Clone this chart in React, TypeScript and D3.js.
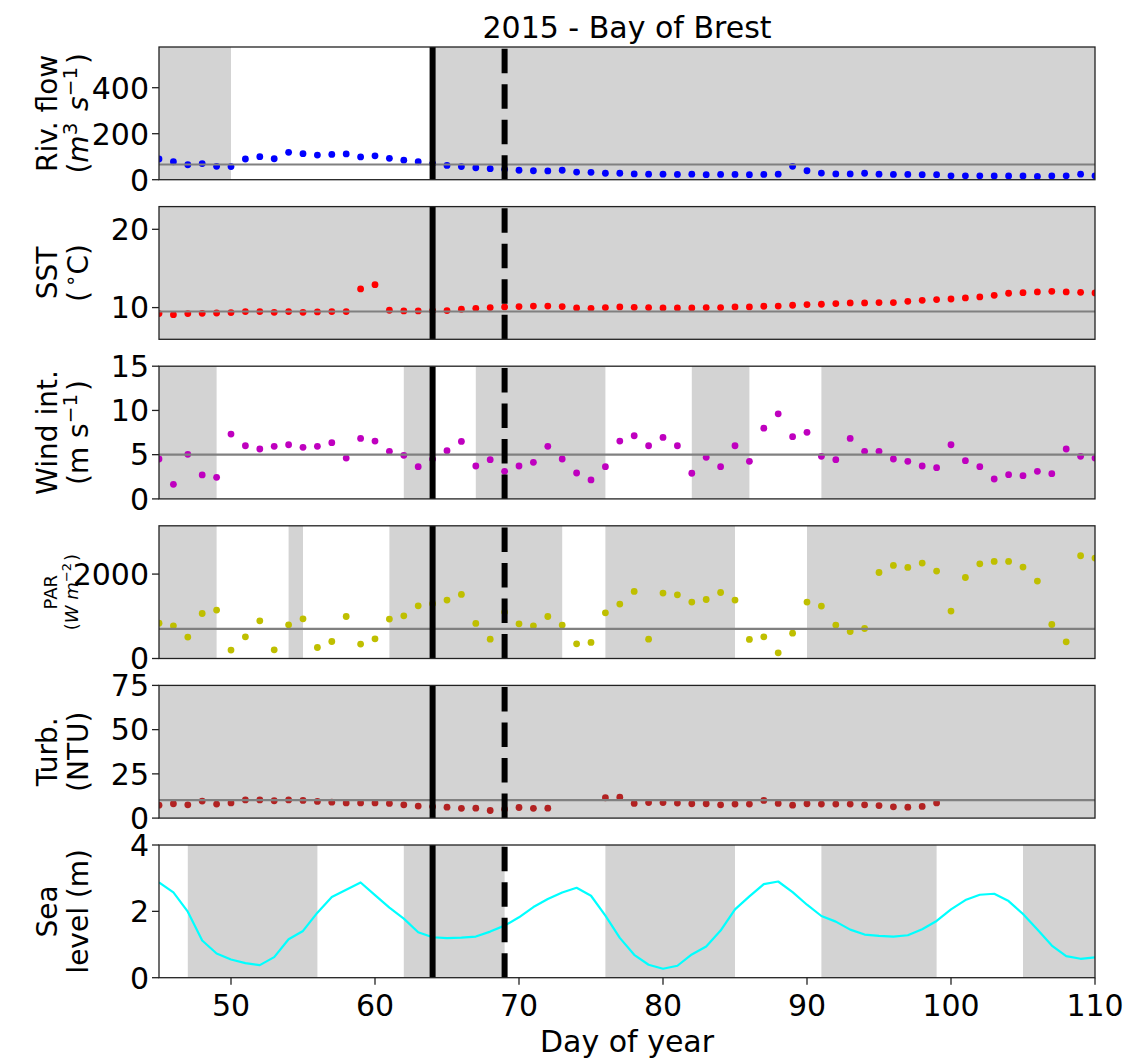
import React from "react";
import * as d3 from "d3";

// Day of year (x axis categories)
const DAYS = [
  45, 46, 47, 48, 49, 50, 51, 52, 53, 54, 55, 56, 57, 58, 59, 60, 61, 62, 63, 64, 65, 66,
  67, 68, 69, 70, 71, 72, 73, 74, 75, 76, 77, 78, 79, 80, 81, 82, 83, 84, 85, 86, 87, 88,
  89, 90, 91, 92, 93, 94, 95, 96, 97, 98, 99, 100, 101, 102, 103, 104, 105, 106, 107, 108,
  109, 110,
];

// River flow (m3 s-1)
const RIVER_FLOW = [
  90, 78, 65, 70, 58, 57, 90, 100, 91, 119, 113, 107, 110, 112, 99, 104, 93, 85, 78, 70, 62, 57,
  52, 48, 45, 41, 39, 38, 41, 33, 32, 28, 28, 25, 24, 24, 23, 24, 22, 23, 23, 22, 23, 24,
  58, 39, 29, 25, 25, 28, 24, 23, 23, 22, 22, 17, 17, 17, 16, 16, 16, 14, 16, 17,
  24, 17,
];

// Sea surface temperature (°C)
const SST = [
  9.23, 9.1, 9.23, 9.27, 9.31, 9.36, 9.49, 9.49, 9.4, 9.49, 9.4, 9.45, 9.49, 9.49, 12.38, 12.93, 9.66, 9.57, 9.57, 9.6, 9.62, 9.79,
  9.91, 10.0, 10.08, 10.13, 10.2, 10.2, 10.13, 9.95, 9.91, 10.0, 10.08, 10.04, 10.0, 9.96, 9.96, 9.96, 10.0, 10.0, 10.08, 10.08, 10.17, 10.2,
  10.3, 10.38, 10.43, 10.51, 10.6, 10.6, 10.64, 10.64, 10.8, 10.93, 11.02, 11.1, 11.23, 11.36, 11.57, 11.83, 11.91, 12.0, 12.08, 12.0,
  11.95, 11.87,
];

// Wind intensity (m s-1)
const WIND = [
  4.51, 1.65, 5.04, 2.71, 2.44, 7.33, 6.01, 5.64, 5.94, 6.12, 5.83, 5.94, 6.35, 4.62, 6.84, 6.54, 5.38, 4.93, 3.64, 4.5, 5.45, 6.5,
  3.72, 4.43, 3.12, 3.72, 4.13, 5.94, 4.51, 2.93, 2.14, 3.64, 6.54, 7.14, 6.01, 6.95, 6.01, 2.9, 4.7, 3.64, 6.01, 4.25, 8.0, 9.62,
  7.03, 7.52, 4.81, 4.43, 6.84, 5.38, 5.38, 4.51, 4.25, 3.72, 3.53, 6.12, 4.32, 3.64, 2.25, 2.74, 2.63, 3.12, 2.85, 5.64,
  4.81, 4.62,
];

// Photosynthetically active radiation (W m-2)
const PAR = [
  838, 775, 507, 1066, 1147, 199, 514, 893, 206, 799, 941, 261, 403, 995, 341, 467, 934, 1012, 1249, 1300, 1384, 1517,
  830, 459, 1100, 822, 775, 995, 791, 348, 380, 1083, 1289, 1588, 459, 1549, 1509, 1336, 1398, 1564, 1384, 451, 514, 135,
  601, 1336, 1241, 791, 640, 711, 2038, 2204, 2157, 2260, 2071, 1123, 1919, 2244, 2299, 2299, 2166, 1834, 806, 396,
  2434, 2379,
];

// Turbidity (NTU); null where no measurement
const TURBIDITY = [
  7.3, 8.1, 7.5, 9.6, 7.9, 8.6, 10.3, 10.3, 9.8, 10.3, 10.0, 9.4, 9.0, 8.6, 8.6, 8.6, 8.3, 7.5, 6.8, 6.5, 6.2, 5.5,
  5.6, 4.3, 5.0, 6.0, 5.5, 5.6, null, null, null, 11.5, 11.8, 8.3, 8.8, 8.8, 8.5, 8.1, 8.1, 7.5, 7.9, 7.9, 10.0, 8.3,
  7.3, 8.1, 7.9, 7.9, 7.9, 7.5, 7.1, 6.4, 6.2, 6.6, 8.6, null, null, null, null, null, null, null, null, null,
  null, null,
];

// Sea level (m)
const SEA_LEVEL = [
  2.87, 2.57, 1.99, 1.12, 0.73, 0.55, 0.44, 0.38, 0.62, 1.16, 1.41, 1.96, 2.43, 2.65, 2.87, 2.49, 2.11, 1.78, 1.37, 1.22, 1.19, 1.21,
  1.24, 1.39, 1.57, 1.82, 2.13, 2.37, 2.57, 2.71, 2.47, 1.87, 1.2, 0.69, 0.39, 0.27, 0.36, 0.7, 0.94, 1.42, 2.06, 2.45, 2.82, 2.9,
  2.58, 2.2, 1.86, 1.69, 1.45, 1.3, 1.26, 1.24, 1.28, 1.46, 1.71, 2.06, 2.34, 2.5, 2.53, 2.31, 1.92, 1.45, 0.97, 0.65,
  0.57, 0.61,
];

// Reference levels (horizontal grey lines)
const MEAN_FLOW = 66;
const MEAN_SST = 9.5;
const MEAN_WIND = 5.0;
const MEAN_PAR = 704;
const MEAN_TURB = 10.2;

// Shaded day intervals [start, end] per variable
const SHADE_FLOW = [[45, 50], [64, 110]];
const SHADE_SST = [[45, 110]];
const SHADE_WIND = [[45, 49], [62, 64], [67, 76], [82, 86], [91, 110]];
const SHADE_PAR = [[45, 49], [54, 55], [61, 73], [76, 85], [90, 110]];
const SHADE_TURB = [[45, 110]];
const SHADE_SEA = [[47, 56], [62, 69], [76, 85], [91, 99], [105, 110]];

// Event markers
const EVENT_SOLID = 64;
const EVENT_DASHED = 69;

const X_TICKS = [50, 60, 70, 80, 90, 100, 110];

const W = 1128;
const H = 1062;
const X0 = 159;
const X1 = 1095;
const TOP0 = 47;
const STEP = 159.6;
const PH = 132.7;
const FONT = "'DejaVu Sans', sans-serif";
const TICK_FS = 30;
const LABEL_FS = 28;
const LABEL_X = 57; // baseline of the first y-label line

const x = d3.scaleLinear().domain([45, 110]).range([X0, X1]);

type PanelDef = {
  id: string;
  values: (number | null)[];
  domain: [number, number];
  ticks: number[];
  shade: number[][];
  color: string;
  mean?: number;
  kind: "dots" | "line";
  label: React.ReactNode;
};

const sup = (t: string, size = 20, shift = 11) => [
  <tspan key={t + "a"} dy={-shift} fontSize={size}>{t}</tspan>,
  <tspan key={t + "b"} dy={shift}>{"\u200A"}</tspan>,
];

const PANELS: PanelDef[] = [
  {
    id: "flow",
    values: RIVER_FLOW,
    domain: [0, 577],
    ticks: [0, 200, 400],
    shade: SHADE_FLOW,
    color: "#0000ff",
    mean: MEAN_FLOW,
    kind: "dots",
    label: (
      <>
        <text x={0} y={0} textAnchor="middle">Riv. flow</text>
        <text x={0} y={31} textAnchor="middle">
          (<tspan fontStyle="italic">m</tspan>
          {sup("3")}
          <tspan> </tspan>
          <tspan fontStyle="italic">s</tspan>
          {sup("−1")})
        </text>
      </>
    ),
  },
  {
    id: "sst",
    values: SST,
    domain: [5.95, 22.9],
    ticks: [10, 20],
    shade: SHADE_SST,
    color: "#ff0000",
    mean: MEAN_SST,
    kind: "dots",
    label: (
      <>
        <text x={0} y={0} textAnchor="middle">SST</text>
        <text x={0} y={31} textAnchor="middle">
          (<tspan dx={4} dy={-11} fontSize={20}>∘</tspan>
          <tspan dy={11}>C)</tspan>
        </text>
      </>
    ),
  },
  {
    id: "wind",
    values: WIND,
    domain: [0, 15],
    ticks: [0, 5, 10, 15],
    shade: SHADE_WIND,
    color: "#bf00bf",
    mean: MEAN_WIND,
    kind: "dots",
    label: (
      <>
        <text x={0} y={0} textAnchor="middle">Wind int.</text>
        <text x={0} y={31} textAnchor="middle">
          (m s{sup("−1")})
        </text>
      </>
    ),
  },
  {
    id: "par",
    values: PAR,
    domain: [0, 3144],
    ticks: [0, 2000],
    shade: SHADE_PAR,
    color: "#bfbf00",
    mean: MEAN_PAR,
    kind: "dots",
    label: (
      <g fontSize={18}>
        <text x={0} y={0} textAnchor="middle">PAR</text>
        <text x={0} y={21} textAnchor="middle">
          (<tspan fontStyle="italic">W</tspan> <tspan fontStyle="italic">m</tspan>
          {sup("−2", 13, 7)})
        </text>
      </g>
    ),
  },
  {
    id: "turb",
    values: TURBIDITY,
    domain: [0, 75],
    ticks: [0, 25, 50, 75],
    shade: SHADE_TURB,
    color: "#b22222",
    mean: MEAN_TURB,
    kind: "dots",
    label: (
      <>
        <text x={0} y={0} textAnchor="middle">Turb.</text>
        <text x={0} y={31} textAnchor="middle">(NTU)</text>
      </>
    ),
  },
  {
    id: "sea",
    values: SEA_LEVEL,
    domain: [0, 4],
    ticks: [0, 2, 4],
    shade: SHADE_SEA,
    color: "#00ffff",
    kind: "line",
    label: (
      <>
        <text x={0} y={0} textAnchor="middle">Sea</text>
        <text x={0} y={31} textAnchor="middle">level (m)</text>
      </>
    ),
  },
];

function Panel({ def, index }: { def: PanelDef; index: number }) {
  const top = TOP0 + index * STEP;
  const bottom = top + PH;
  const y = d3.scaleLinear().domain(def.domain).range([bottom, top]);
  const clipId = `clip-${def.id}`;
  const pts = DAYS.map((d, i) => ({ d, v: def.values[i] })).filter((p) => p.v !== null) as {
    d: number;
    v: number;
  }[];
  const line = d3
    .line<{ d: number; v: number }>()
    .x((p) => x(p.d))
    .y((p) => y(p.v));
  const isLast = index === PANELS.length - 1;

  return (
    <g>
      <defs>
        <clipPath id={clipId}>
          <rect x={X0} y={top} width={X1 - X0} height={PH} />
        </clipPath>
      </defs>
      <g clipPath={`url(#${clipId})`}>
        {def.shade.map(([a, b], i) => (
          <rect key={i} x={x(a)} y={top} width={x(b) - x(a)} height={PH} fill="#d3d3d3" />
        ))}
        {def.kind === "dots" &&
          pts.map((p, i) => <circle key={i} cx={x(p.d)} cy={y(p.v)} r={3.4} fill={def.color} />)}
        {def.kind === "line" && (
          <path d={line(pts) || ""} fill="none" stroke={def.color} strokeWidth={2.2} strokeLinejoin="round" />
        )}
        {def.mean !== undefined && (
          <line x1={X0} x2={X1} y1={y(def.mean)} y2={y(def.mean)} stroke="#808080" strokeWidth={2.2} />
        )}
        <line x1={x(EVENT_SOLID)} x2={x(EVENT_SOLID)} y1={bottom} y2={top} stroke="#000" strokeWidth={6} />
        <line
          x1={x(EVENT_DASHED)}
          x2={x(EVENT_DASHED)}
          y1={bottom}
          y2={top}
          stroke="#000"
          strokeWidth={6}
          strokeDasharray="24.5 11"
        />
      </g>
      <rect x={X0} y={top} width={X1 - X0} height={PH} fill="none" stroke="#222" strokeWidth={1.3} />
      {def.ticks.map((t) => (
        <g key={t} transform={`translate(0,${y(t)})`}>
          <line x1={X0 - 7} x2={X0} stroke="#222" strokeWidth={1.3} />
          <text x={X0 - 10} dy="0.36em" textAnchor="end" fontSize={TICK_FS}>
            {t}
          </text>
        </g>
      ))}
      {isLast &&
        X_TICKS.map((t) => (
          <g key={t} transform={`translate(${x(t)},${bottom})`}>
            <line y1={0} y2={7} stroke="#222" strokeWidth={1.3} />
            <text y={38} textAnchor="middle" fontSize={TICK_FS}>
              {t}
            </text>
          </g>
        ))}
      <g transform={`translate(${LABEL_X},${top + PH / 2}) rotate(-90)`} fontSize={LABEL_FS}>
        {def.label}
      </g>
    </g>
  );
}

export default function App() {
  return (
    <svg
      width={W}
      height={H}
      viewBox={`0 0 ${W} ${H}`}
      style={{ position: "absolute", left: 0, top: 0, background: "#fff" }}
      fontFamily={FONT}
      fill="#000"
    >
      <rect x={0} y={0} width={W} height={H} fill="#fff" />
      <text x={(X0 + X1) / 2} y={38} textAnchor="middle" fontSize={TICK_FS}>
        2015 - Bay of Brest
      </text>
      {PANELS.map((p, i) => (
        <Panel key={p.id} def={p} index={i} />
      ))}
      <text x={(X0 + X1) / 2} y={1052} textAnchor="middle" fontSize={TICK_FS}>
        Day of year
      </text>
    </svg>
  );
}
